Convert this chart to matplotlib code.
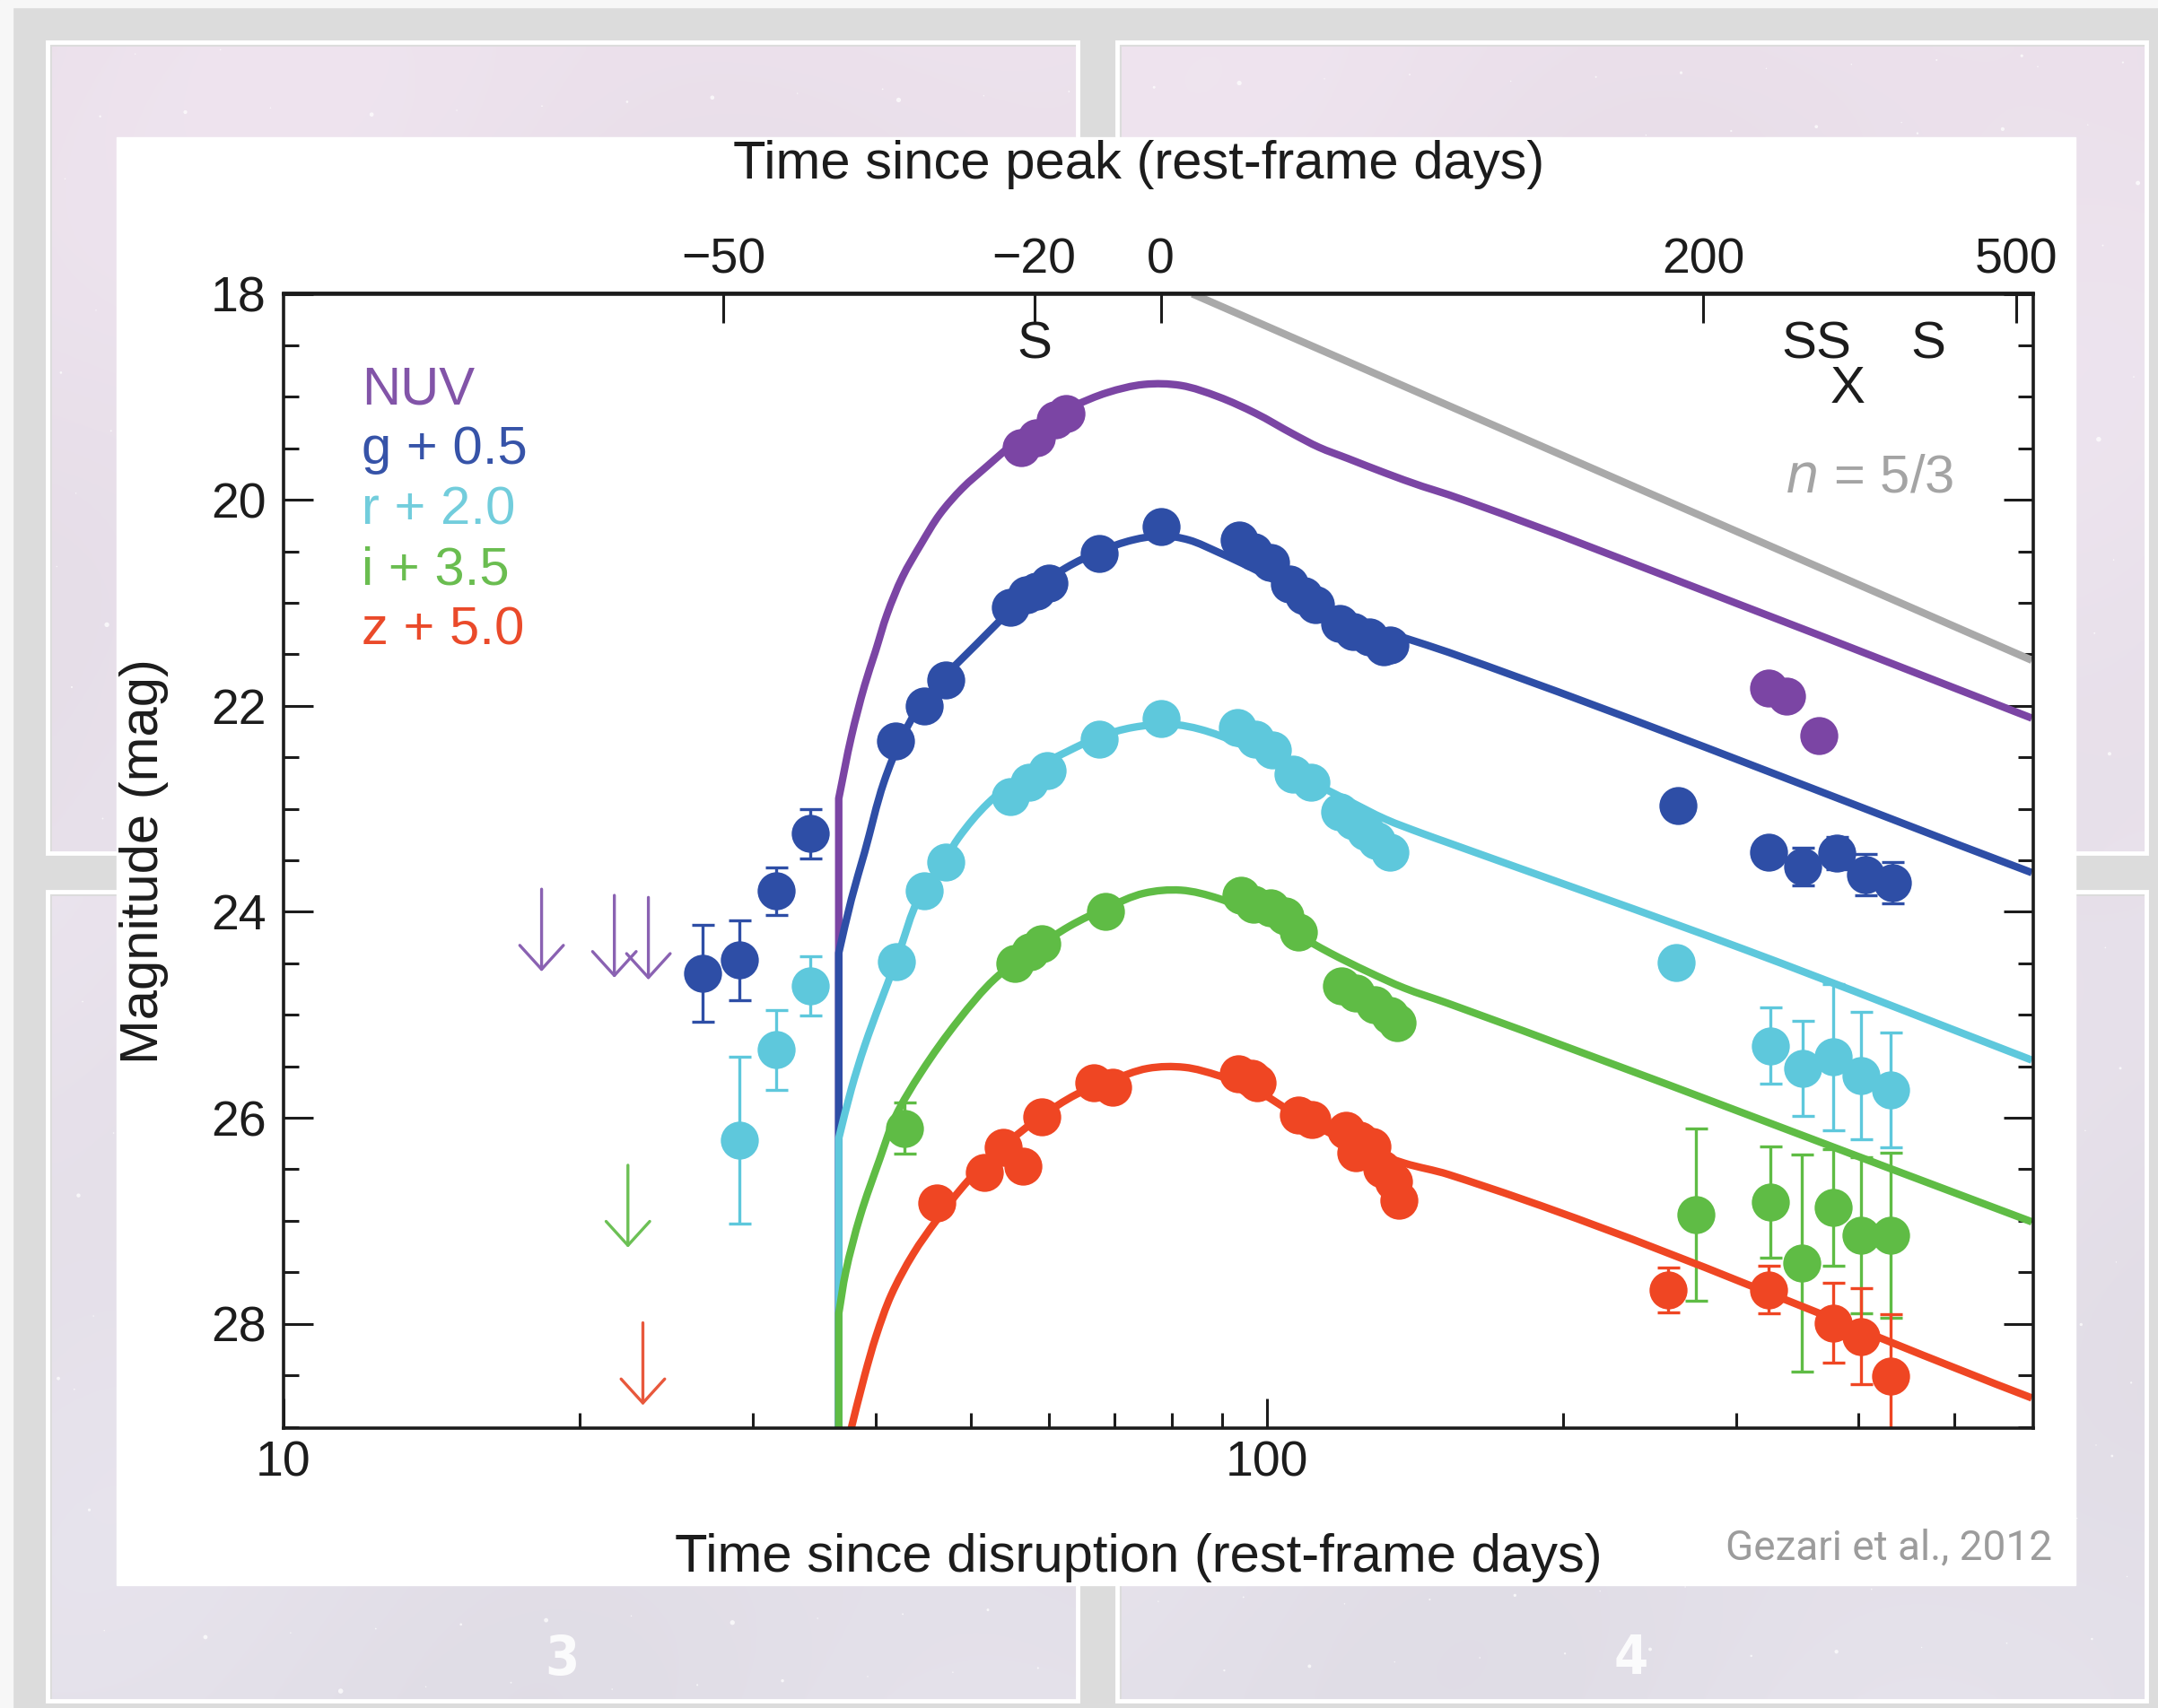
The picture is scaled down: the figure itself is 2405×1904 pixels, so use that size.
import numpy as np
import matplotlib
matplotlib.use("Agg")
import matplotlib.pyplot as plt
from matplotlib.patches import Rectangle, PathPatch
from matplotlib.path import Path
from matplotlib.ticker import FixedLocator, NullFormatter, NullLocator, MultipleLocator

plt.rcParams['font.family'] = ['Liberation Sans', 'DejaVu Sans']

W, H = 2405, 1904

# ---------------------------------------------------------------------------
# Data: rest-frame days since disruption, magnitudes including band offsets
# ---------------------------------------------------------------------------
t_peak = 78.0

band_names = ['NUV', 'g', 'r', 'i', 'z']
band_offsets = [None, 0.5, 2.0, 3.5, 5.0]
band_colors = ['#7b45a4', '#2e4ea6', '#5ec8dc', '#5fbc45', '#ef4623']
label_colors = ['#8254a8', '#3653a8', '#72cddc', '#6abd50', '#ea4a2a']

# model light curves
nuv_model_t = [36.7, 36.7, 37.8, 39.0, 40.0, 41.1, 42.6, 44.5, 46.5, 49.0, 52.0, 55.3, 59.3,
               63.6, 68.8, 75.0, 81.8, 89.3, 97.4, 106.3, 113.0, 121.0, 132.0, 144.0, 153.0,
               307.0, 600.0]
nuv_model_m = [29.1, 22.9, 22.3, 21.8, 21.47, 21.11, 20.75, 20.43, 20.14, 19.89, 19.67, 19.45,
               19.23, 19.09, 18.96, 18.88, 18.89, 19.0, 19.16, 19.36, 19.49, 19.60, 19.74, 19.87,
               19.95, 21.04, 22.12]

g_model_t = [36.7, 36.7, 37.8, 39.0, 40.8, 42.6, 44.5, 47.3, 50.7, 54.4, 58.3, 62.5, 67.6, 73.1,
             78.3, 83.3, 89.3, 97.4, 106.3, 116.0, 126.6, 138.0, 153.0, 600.0]
g_model_m = [29.1, 24.4, 23.88, 23.42, 22.74, 22.30, 21.98, 21.69, 21.40, 21.11, 20.86, 20.66,
             20.50, 20.39, 20.35, 20.39, 20.51, 20.68, 20.88, 21.08, 21.22, 21.34, 21.48, 23.62]

r_model_t = [36.7, 36.7, 37.8, 39.0, 42.0, 44.5, 47.1, 48.6, 52.0, 56.8, 62.5, 67.6, 73.1, 80.0,
             85.7, 93.3, 101.7, 111.0, 121.0, 132.0, 144.0, 153.0, 307.0, 600.0]
r_model_m = [29.1, 26.2, 25.72, 25.3, 24.47, 23.82, 23.49, 23.28, 22.95, 22.66, 22.45, 22.30,
             22.21, 22.18, 22.23, 22.36, 22.56, 22.74, 22.92, 23.10, 23.24, 23.33, 24.37, 25.44]

i_model_t = [36.7, 36.7, 37.3, 38.6, 40.4, 41.9, 44.5, 48.6, 52.9, 57.7, 63.0, 68.8, 75.0, 81.8,
             89.3, 97.4, 106.3, 116.0, 126.6, 138.0, 153.0, 600.0]
i_model_m = [29.1, 27.9, 27.5, 26.95, 26.40, 25.99, 25.56, 25.05, 24.65, 24.38, 24.14, 23.96,
             23.82, 23.79, 23.87, 24.02, 24.20, 24.40, 24.58, 24.74, 24.89, 27.01]

z_model_t = [37.6, 39.0, 40.05, 41.5, 43.7, 46.1, 49.8, 53.9, 58.7, 64.1, 69.3, 75.7, 82.5, 89.3,
             97.4, 106.3, 116.0, 126.6, 138.0, 153.0, 600.0]
z_model_m = [29.1, 28.5, 28.12, 27.72, 27.32, 27.0, 26.60, 26.28, 26.0, 25.77, 25.64, 25.52,
             25.51, 25.59, 25.73, 25.95, 26.15, 26.31, 26.44, 26.55, 28.72]

# number of leading model vertices joined by straight segments (the vertical onset)
model_straight = [2, 2, 2, 2, 1]

# photometry
nuv_t = [56.3, 58.3, 60.9, 62.5, 324, 338, 364]
nuv_m = [19.49, 19.40, 19.22, 19.16, 21.83, 21.91, 22.29]
nuv_err = [0, 0, 0, 0, 0, 0, 0]

g_t = [26.7, 29.1, 31.7, 34.3, 41.9, 44.8, 47.2, 54.8, 57.0, 58.3, 60.0, 67.6, 78.0, 93.7, 97.0,
       100.9, 105.4, 109.1, 112.0, 118.5, 122.4, 127.2, 131.4, 133.5, 262, 324, 351, 380, 406, 433]
g_m = [24.60, 24.47, 23.80, 23.24, 22.34, 22.00, 21.75, 21.04, 20.92, 20.89, 20.81, 20.52, 20.26,
       20.39, 20.50, 20.61, 20.82, 20.93, 21.02, 21.20, 21.28, 21.33, 21.43, 21.41, 22.97, 23.42,
       23.56, 23.43, 23.64, 23.72]
g_err = [0.47, 0.39, 0.23, 0.24, 0, 0, 0, 0, 0, 0, 0, 0, 0, 0, 0, 0, 0, 0, 0, 0, 0, 0, 0, 0, 0,
         0.10, 0.18, 0.16, 0.2, 0.2]

r_t = [29.1, 31.7, 34.3, 42.0, 44.8, 47.2, 54.8, 57.3, 59.8, 67.6, 78.0, 93.3, 97.4, 101.4, 106.3,
       111.0, 118.5, 122.4, 126.0, 129.2, 133.5, 261, 325, 351, 377, 402, 431]
r_m = [26.22, 25.34, 24.72, 24.48, 23.80, 23.52, 22.88, 22.74, 22.63, 22.32, 22.12, 22.21, 22.32,
       22.43, 22.66, 22.74, 23.03, 23.12, 23.22, 23.31, 23.42, 24.49, 25.30, 25.52, 25.41, 25.59,
       25.73]
r_err = [0.81, 0.39, 0.29, 0, 0, 0, 0, 0, 0, 0, 0, 0, 0, 0, 0, 0, 0, 0, 0, 0, 0, 0, 0.37, 0.46,
         0.71, 0.62, 0.56]

i_t = [42.8, 55.4, 57.4, 59.1, 68.5, 94.1, 97.0, 100.9, 104.4, 107.7, 119.0, 123.3, 128.8, 133.3,
       135.7, 273, 325, 350, 377, 402, 431]
i_m = [26.10, 24.50, 24.39, 24.31, 24.00, 23.84, 23.93, 23.96, 24.04, 24.20, 24.72, 24.79, 24.90,
       25.01, 25.08, 26.94, 26.82, 27.41, 26.87, 27.14, 27.14]
i_err = [0.25, 0, 0, 0, 0, 0, 0, 0, 0, 0, 0, 0, 0, 0, 0, 0.84, 0.54, 1.05, 0.57, 0.76, 0.8]

z_t = [46.2, 51.6, 53.9, 56.5, 59.0, 66.7, 69.7, 93.5, 96.6, 97.8, 107.6, 111.1, 120.4, 123.2,
       124.3, 128.0, 131.0, 134.5, 136.2, 256, 324, 377, 402, 431]
z_m = [26.83, 26.53, 26.29, 26.47, 25.99, 25.66, 25.70, 25.57, 25.62, 25.66, 25.97, 26.02, 26.12,
       26.34, 26.22, 26.28, 26.50, 26.62, 26.80, 27.67, 27.67, 27.99, 28.12, 28.51]
z_err = [0] * 19 + [0.22, 0.23, 0.39, 0.47, 0.6]

# upper limits (band index, days, limiting magnitude)
limit_band = [0, 0, 0, 3, 4]
limit_t = [18.3, 21.7, 23.5, 22.4, 23.2]
limit_m = [23.78, 23.84, 23.86, 26.46, 27.99]
limit_colors = ['#8a62b2', '#8a62b2', '#8a62b2', '#6cc055', '#e8583c']

# t^(-n) power law
pl_index = 5.0 / 3.0
pl_t0, pl_m0 = 84.0, 18.0
pl_t_end = 600.0

# spectroscopic (S) and X-ray (X) epochs, days since peak
spec_days = [-20, 270, 299, 393]
xray_days = [312]

# axes ticks
peak_ticks = [-50, -20, 0, 200, 500]
bottom_major = [10, 100]
bottom_minor = [20, 30, 40, 50, 60, 70, 80, 90, 200, 300, 400, 500]
mag_ticks = [18, 20, 22, 24, 26, 28]

models = [(nuv_model_t, nuv_model_m), (g_model_t, g_model_m), (r_model_t, r_model_m),
          (i_model_t, i_model_m), (z_model_t, z_model_m)]
photometry = [(nuv_t, nuv_m, nuv_err), (g_t, g_m, g_err), (r_t, r_m, r_err),
              (i_t, i_m, i_err), (z_t, z_m, z_err)]


def smooth_model_path(t, m, n_straight, sx=1095.7, sy=114.8):
    """Path through the model vertices: straight onset, then cubic Bezier
    segments with bisector tangents, built in (log t, mag) space."""
    u = np.log10(np.asarray(t, float)) * sx
    v = np.asarray(m, float) * sy
    P = np.column_stack([u, v])
    verts = [P[0]]
    codes = [Path.MOVETO]
    for j in range(1, n_straight):
        verts.append(P[j])
        codes.append(Path.LINETO)
    Q = P[n_straight - 1:]
    d = np.diff(Q, axis=0)
    L = np.hypot(d[:, 0], d[:, 1])
    Du = d / L[:, None]
    T = np.empty_like(Q)
    T[0], T[-1] = Du[0], Du[-1]
    for j in range(1, len(Q) - 1):
        b = Du[j - 1] + Du[j]
        T[j] = b / np.hypot(*b)
    for j in range(len(Q) - 1):
        verts += [Q[j] + T[j] * L[j] / 3.0, Q[j + 1] - T[j + 1] * L[j] / 3.0, Q[j + 1]]
        codes += [Path.CURVE4] * 3
    V = np.array(verts)
    V[:, 0] = 10 ** (V[:, 0] / sx)
    V[:, 1] = V[:, 1] / sy
    return Path(V, codes)


# ---------------------------------------------------------------------------
# Figure and slide-style backdrop (pixel coordinates)
# ---------------------------------------------------------------------------
fig = plt.figure(figsize=(W / 100, H / 100), dpi=100)
bg = fig.add_axes([0, 0, 1, 1])
bg.set_xlim(0, W)
bg.set_ylim(H, 0)
bg.axis('off')

bg.add_patch(Rectangle((0, 0), W, H, color='#dcdcdc', zorder=0))
bg.add_patch(Rectangle((0, 0), 14, H, color='#f7f7f7', zorder=0))
bg.add_patch(Rectangle((0, 0), W, 8, color='#f7f7f7', zorder=0))

panels = [(53, 47, 1201, 951), (1245, 47, 2392, 951),
          (53, 994, 1201, 1896), (1245, 994, 2392, 1896)]
chart_box = (130, 153, 2313, 1767)
for k, (x0, y0, x1, y1) in enumerate(panels):
    ny, nx = 120, 180
    yy, xx = np.mgrid[0:1:ny * 1j, 0:1:nx * 1j]
    top = np.array([236, 225, 236]) / 255.0
    bot = np.array([227, 224, 233]) / 255.0
    frac = (y0 + yy * (y1 - y0)) / H
    img = top[None, None, :] * (1 - frac[..., None]) + bot[None, None, :] * frac[..., None]
    wave = 0.012 * np.sin(6.0 * xx + 3.0 * yy + k) * np.cos(4.0 * yy - 2.0 * xx)
    img = np.clip(img + wave[..., None], 0, 1)
    bg.imshow(img, extent=(x0 + 5, x1, y1, y0 + 5), aspect='auto', zorder=1,
              interpolation='bilinear')
    bg.add_patch(Rectangle((x0, y0), x1 - x0, y1 - y0, fill=False, edgecolor='white',
                           lw=3.5, zorder=2))

# faint star speckles on the panels (quasi-uniform Weyl sequence)
kk = np.arange(1, 700)
star_x = (kk * 0.6180339887) % 1.0 * W
star_y = (kk * 0.7548776662) % 1.0 * H
star_s = 1.0 + 3.0 * ((kk * 0.4142135) % 1.0) ** 3
keep = np.zeros(kk.size, bool)
for (x0, y0, x1, y1) in panels:
    keep |= (star_x > x0 + 8) & (star_x < x1 - 8) & (star_y > y0 + 8) & (star_y < y1 - 8)
inside_chart = ((star_x > chart_box[0]) & (star_x < chart_box[2]) &
                (star_y > chart_box[1]) & (star_y < chart_box[3]))
keep &= ~inside_chart
bg.scatter(star_x[keep], star_y[keep], s=star_s[keep] ** 2, color='white', alpha=0.75,
           linewidths=0, zorder=2.5)

bg.add_patch(Rectangle((chart_box[0], chart_box[1]), chart_box[2] - chart_box[0],
                       chart_box[3] - chart_box[1], color='white', zorder=3))
for num, xc in zip(['3', '4'], [626, 1818]):
    bg.text(xc, 1850, num, color='white', fontsize=44, fontweight='bold',
            family='DejaVu Sans', fontstretch='condensed', ha='center', va='center',
            alpha=0.9, zorder=4)
bg.text(2287, 1725, 'Gezari et al., 2012', color='#9c9c9c', fontsize=33,
        family='Roboto', ha='right', va='center', zorder=4)

# ---------------------------------------------------------------------------
# Light-curve panel
# ---------------------------------------------------------------------------
ax = fig.add_axes([316 / W, 1 - 1591.7 / H, 1950 / W, 1264.2 / H])
ax.patch.set_alpha(0)
ax.set_xscale('log')
ax.set_xlim(10, 602)
ax.set_ylim(29.01, 18)

tick_color = '#1c1c1c'
for sp in ax.spines.values():
    sp.set_linewidth(2.6)
    sp.set_color(tick_color)

ax.xaxis.set_major_locator(FixedLocator(bottom_major))
ax.xaxis.set_minor_locator(FixedLocator(bottom_minor))
ax.set_xticklabels([str(v) for v in bottom_major])
ax.xaxis.set_minor_formatter(NullFormatter())
ax.yaxis.set_major_locator(FixedLocator(mag_ticks))
ax.yaxis.set_minor_locator(MultipleLocator(0.5))
ax.set_yticklabels([str(v) for v in mag_ticks])

ax.tick_params(which='both', direction='in', top=False, right=True, width=2.2,
               color=tick_color, labelcolor=tick_color)
ax.tick_params(which='major', length=24, labelsize=40)
ax.tick_params(which='minor', length=12)
ax.tick_params(axis='y', which='major', pad=14)
ax.tick_params(axis='x', which='major', pad=10)

# top axis: days relative to peak
sec = ax.secondary_xaxis('top')
sec.xaxis.set_major_locator(FixedLocator([t_peak + d for d in peak_ticks]))
sec.xaxis.set_minor_locator(NullLocator())
sec.xaxis.set_minor_formatter(NullFormatter())
sec.set_xticklabels([str(d).replace('-', '\u2212') for d in peak_ticks])
sec.tick_params(which='major', direction='in', length=24, width=2.2, labelsize=40,
                pad=8, color=tick_color, labelcolor=tick_color)
sec.spines['top'].set_linewidth(2.6)

ax.text(0.4887, 1.114, 'Time since peak (rest-frame days)', transform=ax.transAxes,
        ha='center', va='center', fontsize=43, color=tick_color)
ax.set_xlabel('Time since disruption (rest-frame days)', fontsize=43, color=tick_color,
              va='center')
ax.xaxis.set_label_coords(0.4887, -0.1143)
ax.set_ylabel('Magnitude (mag)', fontsize=43, color=tick_color, va='center')
ax.yaxis.set_label_coords(-0.0795, 0.5)

# power-law reference line
pl_t = np.geomspace(pl_t0, pl_t_end, 50)
pl_m = pl_m0 + 2.5 * pl_index * np.log10(pl_t / pl_t0)
ax.plot(pl_t, pl_m, color='#a9a9a9', lw=6, solid_capstyle='butt', zorder=2)
ax.text(410, 19.79, r'$\mathit{n}$ = 5/3', color='#a4a4a4', fontsize=43, ha='center',
        va='center')

# models and photometry, band by band
for k in range(5):
    c = band_colors[k]
    mt, mm = models[k]
    ax.add_patch(PathPatch(smooth_model_path(mt, mm, model_straight[k]), fill=False,
                           edgecolor=c, lw=6, joinstyle='round', capstyle='butt',
                           zorder=2 + k * 0.1))
    pt, pm, pe = (np.asarray(a, dtype=float) for a in photometry[k])
    has_err = pe > 0
    if has_err.any():
        ax.errorbar(pt[has_err], pm[has_err], yerr=pe[has_err], fmt='none', ecolor=c,
                    elinewidth=2.4, capsize=9, capthick=2.4, zorder=2.05 + k * 0.1)
    ax.plot(pt, pm, 'o', color=c, ms=30.5, mew=0, zorder=2.06 + k * 0.1)

# upper limits
for b, t, m, c in zip(limit_band, limit_t, limit_m, limit_colors):
    ax.annotate('', xy=(t, m + 0.8), xytext=(t, m),
                arrowprops=dict(arrowstyle='->,head_length=0.55,head_width=0.5', lw=2.4,
                                color=c, shrinkA=0, shrinkB=0, mutation_scale=35),
                zorder=3)

# legend labels
for k in range(5):
    label = band_names[k] if band_offsets[k] is None else f'{band_names[k]} + {band_offsets[k]:.1f}'
    ax.text(0.0446, 0.9031 - k * 0.0531, label, transform=ax.transAxes, color=label_colors[k],
            fontsize=43, ha='left', va='baseline')

# spectroscopy / X-ray epochs
for d in spec_days:
    ax.text(t_peak + d, 18.5, 'S', fontsize=42, ha='center', va='center', color=tick_color)
for d in xray_days:
    ax.text(t_peak + d, 18.93, 'X', fontsize=42, ha='center', va='center', color=tick_color)

ax.set_xlim(10, 602)
ax.set_ylim(29.01, 18)

fig.savefig('out.png', dpi=100)
